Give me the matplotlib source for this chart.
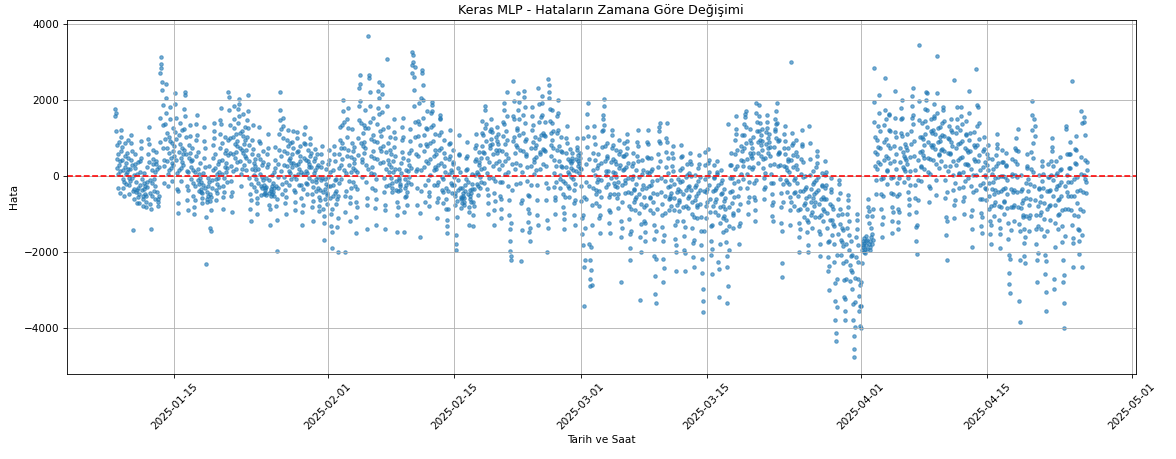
import pandas as pd
import matplotlib
matplotlib.use("Agg")
import matplotlib.pyplot as plt

# hourly prediction errors of the Keras MLP, one row per day
jan_start = "2025-01-08 11:00"
jan_errors = [
    1750, 1580, 1660, 1180, 820, 430, 210, -320, 60, 570, 880, 290, -460,
    120, 380, 650, 1020, 1190, 760, 420, 150, -80, -310, -540, -170, 240, 510, 860, 330, 40, -220, 90, 610, 930, 470, 180, -60,
    -250, -480, -130, 180, 420, 860, 1080, 640, 290, -70, -390, -1420, -610, -340, 20, 310, 570, 210, -150, -420, -720, -380, 60, 350,
    -320, -560, -710, -480, -250, 110, 380, 720, 910, 460, -90, -380, -620, -790, -540, -350, -180, 70, -260, -470, -680, -820, -530, -300,
    -150, 240, 580, 960, 1290, 830, 350, -120, -460, -740, -1390, -880, -520, -200, 150, 440, 690, 320, -80, -390, -610, -280, 90, 400,
    310, 620, 180, -420, -610, -780, -690, -520, 240, 880, 1520, 2690, 2930, 3110, 2840, 2460, 2250, 1870, 1340, 720, 260, -180, 410, 960,
    1350, 2420, 2040, 1660, 1120, 740, 380, 40, -280, 160, 590, 1030, 1480, 1810, 920, 480, 210, -130, 330, 870, 1260, 650, 290, 520,
    780, 1140, 1890, 2180, 1530, 960, 420, 80, -350, -720, -980, -410, 150, 620, 1070, 1390, 830, 470, 210, -140, 360, 740, 1210, 560,
    290, 680, 1240, 1760, 2110, 2200, 1580, 1020, 570, 130, -260, -640, -890, -380, 90, 470, 820, 1330, 1050, 610, 240, -90, 380, 730,
    420, 150, -180, -520, -830, -1010, -640, -270, 110, 530, 940, 1370, 1590, 1080, 620, 190, -120, -390, -210, 60, 340, -50, -420, -160,
    -350, -580, -720, -460, -240, 80, 460, 910, 1280, 740, 220, -310, -2310, -1090, -620, -430, -690, -520, -280, -50, 260, -170, -470, -650,
    -1380, -1450, -900, -560, -330, -120, 150, 470, 820, 1180, 1390, 980, 560, 210, -90, -380, -640, -450, -210, 40, 320, -60, -290, 110,
    380, 720, 1090, 1460, 1780, 1350, 860, 420, 60, -280, -560, -880, -430, -70, 240, 590, 1010, 690, 330, 90, -150, 210, 550, 930,
    2190, 2070, 1720, 1340, 980, 610, 250, -140, -520, -960, -430, 120, 560, 1010, 1480, 1830, 1260, 840, 470, 180, 620, 1090, 770, 350,
    920, 1380, 1750, 2010, 1890, 1560, 1120, 730, 390, 60, -280, 190, 680, 1170, 1620, 1040, 590, 280, 840, 1290, 940, 510, 150, 460,
    680, 1030, 1470, 2120, 1700, 1260, 820, 380, -50, -470, -870, -1190, -640, -220, 190, 560, 940, 1330, 710, 330, 20, -290, 150, 450,
    260, -80, -390, -720, -1010, -580, -190, 170, 540, 920, 1280, 860, 430, 60, -260, -510, -330, -40, 280, 640, 350, -110, -470, -230,
    -380, -460, -320, -510, -290, -60, 240, 580, 1090, 730, 310, -120, -450, -760, -1280, -880, -530, -410, -340, -490, -270, 30, -180, -420,
    -310, -540, 90, 420, 760, 210, -260, -790, -1980, -1170, -620, -330, -40, 310, 680, 1090, 1460, 1720, 2190, 1240, 530, 120, -210, -470,
    1520, 1310, 980, 640, 290, -40, -380, -720, -990, -560, -150, 260, 590, 930, 1210, 780, 410, 120, -230, 70, 480, 850, 330, -90,
    220, 560, 890, 1180, 720, 340, -10, -370, -690, -890, -420, -80, 290, 620, 980, 1150, 650, 310, 40, -240, 180, 510, 770, 400,
    110, -230, -570, -940, -1280, -760, -350, 50, 460, 870, 1090, 1290, 830, 420, 130, -190, -480, -220, 80, 390, 690, 310, -60, 240,
    520, 840, 990, 610, 240, -130, -470, -810, -1190, -650, -290, 70, 380, 710, 460, 160, -150, -390, -80, 230, 560, 280, -40, -310,
    -560, -780, -920, -640, -380, -110, 230, 580, 790, 360, -70, -430, -860, -1240, -1690, -1050, -610, -340, -90, 170, -220, -510, -730, -450,
]

feb_start = "2025-02-01 00:00"
feb_errors = [
    -280, -40, 310, 680, 420, 90, -260, -590, -1010, -1320, -1900, -1480, -870, -520, -240, 150, 560, 790, 380, -110, -460, -730, -390, -80,
    -620, -1350, -2010, -1110, -530, -180, 210, 560, 930, 1280, 720, 290, -90, 430, 860, 1340, 1710, 2000, 1420, 740, 150, -520, -1990, -940,
    -410, 80, 520, 1010, 1480, 1780, 1250, 690, 280, -130, -560, -1180, -720, -310, 110, 490, 870, 1220, 650, 210, -170, 340, 760, 430,
    140, -280, -690, -1090, -1500, -820, -350, 90, 540, 980, 1470, 1830, 2310, 2420, 2650, 1960, 1380, 860, 430, -40, 370, 790, 1130, 610,
    890, 1340, 1720, 1250, 740, 290, -150, -580, -1390, -760, 180, 1260, 3670, 2640, 2580, 2210, 1830, 1420, 960, 510, 70, -310, 240, 650,
    1080, 1510, 920, 460, 40, -380, -840, -1290, -620, -90, 430, 890, 1360, 1790, 2230, 2460, 2050, 1620, 1170, 720, 330, 640, 1040, 2380,
    2140, 1680, 1230, 780, 360, -50, -420, -890, -1410, -760, -270, 180, 620, 3070, 1840, 1290, 850, 420, 90, -230, 310, 690, 1020, 560,
    240, -60, -310, -430, -180, 110, 390, 760, 1140, 1490, 980, 520, 170, -140, -380, -690, -1040, -1480, -820, -410, -120, 190, -60, -270,
    -380, -210, 70, 330, 620, 940, 1270, 1510, 1030, 470, -1480, -940, -560, -330, -90, 160, -240, -520, -760, -430, -150, 120, 410, -20,
    280, 610, 920, 1240, 690, 210, -220, 2700, 2910, 3260, 3180, 2990, 2590, 2250, 1840, 1420, 1010, 2870, 560, 130, -330, -760, 170, 520,
    1040, 1450, 1900, 1370, 820, -1600, -970, -410, 150, 2050, 2780, 2700, 2390, 1980, 1510, 1060, 640, 220, -250, -680, 380, 830, 1260, 1690,
    1230, 780, 340, -100, -530, -800, -420, 10, 430, 870, 1280, 1650, 1950, 1870, 1700, 1340, 920, 510, 160, -250, 220, 670, 1090, 580,
    190, -240, -680, -1100, -590, -150, 280, 690, 1080, 1480, 1600, 1530, 1140, 720, 330, -30, -380, -710, -420, -80, 250, 600, 930, 470,
    110, -310, -620, -880, -1150, -1310, -1490, -870, -400, 40, 430, 830, 1190, 860, 510, 160, -180, -460, -240, 90, 370, 690, 320, -30,
    -240, -520, -770, -460, -1560, -1960, -1780, -1090, -650, -380, -120, 210, 580, 1080, 540, 90, -310, -620, -840, -560, -330, -590, -720, -450,
    -530, -680, -760, -590, -410, -250, -90, 140, 460, 880, 530, 170, -160, -480, -830, -1290, -940, -610, -380, -520, -700, -440, -210, 60,
    -340, -690, -1020, -1310, -780, -350, 20, 380, 740, 1090, 820, 450, 110, -220, -510, -260, 40, 360, 630, 290, -30, -320, -150, 190,
    460, 780, 1130, 1450, 1060, 620, 210, -180, 590, 1260, 1830, 1740, 1370, 910, 480, 70, -340, -720, -1000, -510, -60, 370, 820, 1180,
    720, 960, 1230, 1500, 1140, 830, 560, 270, -70, -460, -890, -1300, -650, -140, 330, 690, 1010, 1270, 920, 610, 840, 1110, 690, 390,
    180, -160, -520, -880, -1110, -610, -150, 280, 650, 1040, 1420, 1720, 1900, 1370, 830, 390, 40, 560, 1180, 2200, 1560, 940, 480, 110,
    -280, -640, -1030, -1390, -1720, -1980, -2100, -2210, -1240, -360, 320, 910, 1560, 2500, 1970, 1480, 1020, 590, 180, -220, 340, 820, 1210, 760,
    1260, 1720, 2170, 1930, 1490, 1060, 680, 290, -180, -710, -2240, -1420, -630, 110, 640, 1130, 1590, 2060, 2230, 1820, 1380, 910, 520, 960,
    580, 220, -140, -510, -880, -1210, -1470, -980, -530, -1700, -1360, -240, 270, 740, 1190, 1580, 1800, 1340, 880, 430, 60, 350, 720, 1030,
    820, 490, 140, -230, -640, -1040, -1300, 2300, 1880, 1420, 970, 560, 190, 620, 1080, 1550, 1920, 2100, 1610, 1130, 700, 310, 690, 1070,
    1420, 1050, 660, 250, -180, -640, -1170, -2000, -1380, -330, 2540, 2390, 2210, 2040, 1760, 1450, 1130, 820, 510, 930, 1380, 1720, 1180, 740,
    420, 80, -290, -630, -1000, -560, -150, 260, 690, 1120, 1560, 2000, 1640, 1210, 790, 380, 20, -330, -90, 270, 640, 1010, 620, 240,
    -140, -470, -810, -1130, -1400, -970, -560, -180, 220, 610, 1000, 1300, 870, 450, 90, -260, -550, -310, 40, 380, 700, 330, -20, 210,
    470, 610, 380, 150, -90, -380, -720, -1030, -1300, -640, -220, 120, 430, 760, 1000, 680, 390, 540, 260, 70, 340, 590, 210, 460,
]

mar_start = "2025-03-01 00:00"
mar_errors = [
    180, -260, -670, -1120, -1530, -1810, -1040, 990, -560, -2390, -3420, -2200, -1380, -620, -150, 310, 760, 1280, 1620, 1900, 1040, 430, -260, -1790,
    -2210, -2720, -2900, -2480, -1860, -1290, -760, -2860, -320, 140, 590, 1030, 1300, 840, 410, 20, -370, -710, -480, -150, 210, 560, 280, -90,
    -410, -780, -1120, -1500, -1030, -560, -110, 330, 760, 1170, 1490, 1210, 1600, 1830, 2010, 1340, 790, 380, 20, -300, 120, 520, 870, 460,
    130, -220, -560, -890, -1240, -1500, -950, -470, -60, 350, 730, 1080, 1200, 820, 450, 110, -200, -490, -260, 70, 400, 680, 310, -30,
    -290, -570, -840, -490, -170, 210, 580, 930, 640, 280, -1190, -1600, -2780, -1370, -680, -250, 140, 530, 860, 520, 170, -190, -460, -120,
    240, 580, 910, 1100, 720, 330, -60, -420, -780, -1130, -1530, -1900, -2200, -1460, -880, -440, -90, 260, 610, 340, -10, -350, -680, -380,
    -620, -900, -560, -210, 160, 530, 880, 1200, 790, 380, -30, -470, -980, -1620, -3250, -2010, -1270, -740, -350, 40, 420, 150, -240, -560,
    -810, -1180, -1470, -1700, -1250, -760, -320, 90, 500, 890, 1200, 830, 460, 80, -270, -590, -900, -560, -230, 120, 470, 180, -140, -450,
    -690, -970, -1290, -1650, -2100, -2640, -3100, -3330, -2180, -1450, -880, -470, -120, 220, 560, 910, 1170, 1290, 1390, 860, 390, -60, -430, -750,
    -1020, -1340, -1700, -2180, -2800, -2410, -1560, -980, -530, -140, 240, 620, 980, 1400, 890, 470, 80, -290, -610, -890, -590, -260, -520, -780,
    -460, -120, 260, 590, 780, 470, 130, -220, -570, -910, -1280, -1650, -2010, -2500, -1820, -1190, -760, -420, -80, -350, -640, -930, -680, -390,
    -170, 160, 490, 800, 520, 200, -140, -480, -830, -1200, -1580, -1960, -2500, -2030, -1340, -780, -370, -20, 310, 10, -290, -580, -850, -540,
    -260, 70, 380, 600, 310, -10, -360, -690, -1010, -1380, -1760, -2120, -2400, -1690, -1080, -640, -300, 30, -240, -530, -810, -1100, -760, -450,
    -130, 200, 540, 310, -20, -380, -730, -1090, -1460, -1820, -2190, -2560, -2980, -3290, -3570, -1450, -410, 630, 280, -80, -430, -780, -1120, -690,
    -340, -10, 330, 700, 420, 90, -250, -600, -960, -1330, -1710, -2090, -2570, -1920, -1280, -790, -410, -60, 290, -30, -370, -680, -950, -620,
    -310, 40, 400, 110, -240, -1030, -2270, -3180, -2460, -1780, -1240, -830, -490, -180, 160, -120, -450, -790, -1120, -1480, -1060, -660, -340, -580,
    -870, -1150, -1430, -1730, -2100, -2400, -3350, 1370, -2890, -1960, -1310, -830, -420, -60, 290, 600, 280, -70, -400, -720, -1040, -1370, -980, -560,
    -180, 190, 560, 930, 1240, 1570, 1110, 680, 270, -130, -520, -910, -1310, -1800, -1240, -730, -320, 60, 420, 780, 1060, 650, 260, -90,
    390, 740, 1080, 1370, 1540, 1620, 1700, 1290, 860, 450, 60, -320, -680, -1000, -560, -160, 220, 590, 940, 1220, 870, 510, 180, 470,
    730, 1020, 610, 230, -180, -560, -890, -1200, -640, -120, 1910, 1650, 1420, 1170, 890, 600, 330, 1180, 1560, 1870, 1380, 930, 510, 820,
    1070, 1220, 910, 680, 450, 210, -60, -340, -600, -290, 80, 460, 830, 1150, 1420, 1600, 1260, 980, 720, 610, 880, 1100, 760, 510,
    290, 60, -200, -480, -770, -1050, -1200, -680, -190, 320, 760, 1170, 1480, 1240, 990, 1360, 1690, 1910, 1380, 920, 570, 260, 630, 940,
    610, 280, -80, -440, -820, -1250, -2300, -2650, -1460, -700, -210, 260, 730, 1090, 1300, 910, 560, 230, -110, -420, -170, 160, 450, 720,
    380, 90, -220, -560, -900, -1300, -680, 3000, 420, 810, 1130, 870, 540, 220, -120, -450, -780, -420, -60, 280, 620, 950, 530, 170,
    -200, -540, -890, -1250, -1620, -2000, -1410, -860, -390, 40, 450, 830, 1200, 770, 360, -30, -410, -760, -1090, -720, -350, 0, -290, -580,
    -860, -1150, -1480, -1820, -2000, -1210, -540, 1320, 860, 430, 30, -340, -690, -1030, -1370, -960, -570, -210, 130, -160, -480, -790, -1090, -700,
    -420, -100, 230, 510, 650, 330, -20, -380, -740, -1090, -1440, -1780, -2100, -1520, -1020, -610, -260, 80, -230, -560, -880, -1190, -920, -600,
    -310, 20, 400, 90, -250, -610, -980, -1360, -1740, -2120, -2510, -3000, -2380, -1720, -1170, -730, -350, -60, -420, -800, -1170, -1550, -1260, -880,
    -1320, -1780, -2270, -2810, -3300, -3800, -4120, -4330, -3440, -2710, -2080, -1530, -1040, -600, -210, -100, -460, -860, -1270, -1680, -2090, -1740, -1380, -1010,
    -1420, -1850, -2290, -2740, -3180, -3560, -3800, -3240, -2710, -2230, -1790, -1380, -990, -640, -500, -810, -1180, -1560, -1950, -2340, -2760, -2480, -2100, -1720,
    -2090, -2530, -2960, -3370, -3790, -4210, -4550, -4770, -3980, -3310, -2690, -2130, -1620, -1170, -1000, -1390, -1830, -2270, -2710, -3150, -3560, -3940, -3410, -2880,
]

apr_start = "2025-04-01 00:00"
apr_errors = [
    -4010, -3420, -2790, -2280, -1960, -1830, -1720, -1880, -1990, -1760, -1640, -1910, -2040, -1700, -1570, -1810, -1930, -1680, -1050, -820, -610, -930, -1240, -1790,
    -1870, -1720, -1950, -1610, -1380, -1790, -1520, -1060, -880, -1690, 2830, 1940, 1420, 1010, 620, 260, -110, -480, 180, 560, 930, 1320, 760, 350,
    2130, 1640, 1170, 720, 310, -80, -470, -880, -1260, -1600, -1070, -540, -60, 410, 880, 1330, 1740, 2570, 1480, 960, 530, 150, -210, 120,
    460, 820, 1210, 1600, 1630, 1180, 740, 330, -60, -450, -830, -1200, -1500, -960, -480, -30, 390, 780, 1150, 2220, 1520, 1010, 570, 180,
    -190, -540, -880, -1210, -1400, -940, -490, -60, 350, 740, 1120, 1480, 1790, 2000, 1530, 1050, 620, 220, -150, 180, 510, 830, 470, 120,
    410, 760, 1090, 690, 310, -60, -420, -760, -1000, -620, -250, 130, 490, 840, 1180, 1510, 1830, 2090, 1600, 2300, 1370, 920, 510, 150,
    -230, -590, -960, -1340, -1700, -2050, -1280, -640, -100, 420, 3440, 1960, 1470, 1030, 620, 240, -130, 260, 650, 1020, 1380, 960, 550, 170,
    480, 800, 1110, 1430, 1760, 1990, 2200, 2170, 1720, 1290, 880, 480, 100, -280, -700, -330, 60, 440, 810, 1170, 1500, 1130, 760, 410,
    820, 1200, 1560, 1890, 1520, 1110, 700, 310, -100, -500, 3150, 2180, 1640, 1250, 880, 540, 200, 560, 910, 1280, 1010, 690, 380, 710,
    1060, 1390, 1720, 1800, 1430, 1040, 640, 270, -120, -580, -1070, -1560, -2220, -1180, -420, 130, 590, 980, 1310, 960, 610, 260, 560, 890,
    1200, 1500, 1160, 780, 390, 10, -380, 2520, -760, -1100, -640, -190, 280, 720, 1130, 1490, 1820, 1290, 830, 420, 40, -320, 80, 470,
    850, 1210, 1570, 1800, 1350, 910, 500, 100, -290, -670, -1000, -560, -130, 310, 730, 1100, 1450, 1060, 680, 300, -60, 290, 620, 940,
    2240, 1650, 1130, 640, 180, -280, -1050, -1870, -1400, -890, -430, 20, 440, 820, 1150, 760, 380, 10, -370, 2800, 1870, 1310, 820, 390,
    1820, 1390, 960, 550, 150, -230, -610, -980, -1330, -1500, -1080, -620, -190, 240, 660, 1020, 710, 360, 20, -310, -640, -350, -40, 280,
    560, 800, 470, 140, -190, -520, -860, -1190, -1520, -1800, -1280, -790, -350, 60, 440, 170, -160, -480, -770, -1060, -700, -380, -60, 250,
    540, 830, 1100, 720, 330, -40, -420, -800, -1170, -1540, -1900, -1360, -830, -400, -10, 370, 690, 350, 0, -340, -680, -1010, -670, -320,
    -20, 290, 590, 250, -110, -470, -850, -1240, -1650, -2090, -2560, -2830, -3090, -2180, -1420, -820, -350, 60, 430, -10, -420, -810, -1180, -760,
    -370, 10, 380, 720, 1000, 690, 320, -40, -420, 650, 1220, -830, -1260, -3300, -3830, -2210, -1440, -850, -390, 30, -350, -720, -1090, -640,
    -1020, -1390, -1760, -2100, -2300, -1610, -1050, -590, -190, 200, 560, 260, -80, -410, -760, -1120, -1460, -1030, -600, -220, 170, 630, 1960, 1610,
    1190, 860, 480, 110, -260, 1480, 1300, 1040, -640, -1020, -1400, -1790, -2200, -2800, -2020, -1330, -780, -340, 30, -310, -680, -1040, -1400, -960,
    -530, -130, 260, 400, 40, -330, -720, -1140, -1590, -2070, -2570, -3040, -3550, -2240, -1460, -870, -410, -40, 310, -30, -410, -780, -1150, -770,
    -380, 10, 390, 760, 1000, 640, 270, -110, -520, -2700, -2960, -1860, -1230, -760, -350, 30, 400, 80, -270, -640, -1030, -1410, -1000, -610,
    -230, 140, 500, 190, -160, -530, -910, -1310, -1740, -2220, -2780, -3340, -4010, -2610, -1570, -860, -280, 1240, 1310, 560, 10, -430, -870, -540,
    -170, 200, 560, 890, 560, 210, -150, -520, -900, -1300, 2480, -1770, -2400, -1640, -1020, -520, -80, 330, 700, 1040, 690, 320, -40, -390,
    -720, -1050, -1390, -1720, -2060, -1420, -860, -380, 60, 490, 1700, 1390, -2400, -1560, -920, -430, 20, 1550, 1410, 1080, 410, -80, -450, -160,
    150, 370,
]

months = [(jan_start, jan_errors), (feb_start, feb_errors),
          (mar_start, mar_errors), (apr_start, apr_errors)]
df = pd.concat([
    pd.DataFrame({"tarih": pd.date_range(start, periods=len(errs), freq="h"), "hata": errs})
    for start, errs in months
], ignore_index=True)

dpi = 76
fig, ax = plt.subplots(figsize=(1176 / dpi, 459 / dpi), dpi=dpi)
ax.scatter(df["tarih"], df["hata"], s=11, alpha=0.6)
ax.axhline(0, color="red", linestyle="--")
ax.set_title("Keras MLP - Hataların Zamana Göre Değişimi")
ax.set_xlabel("Tarih ve Saat")
ax.set_ylabel("Hata")
ax.grid(True)
plt.xticks(rotation=45)
fig.subplots_adjust(left=66.5 / 1176, right=1135.5 / 1176, top=1 - 20 / 459, bottom=1 - 373.5 / 459)
fig.savefig("out.png", dpi=dpi)
